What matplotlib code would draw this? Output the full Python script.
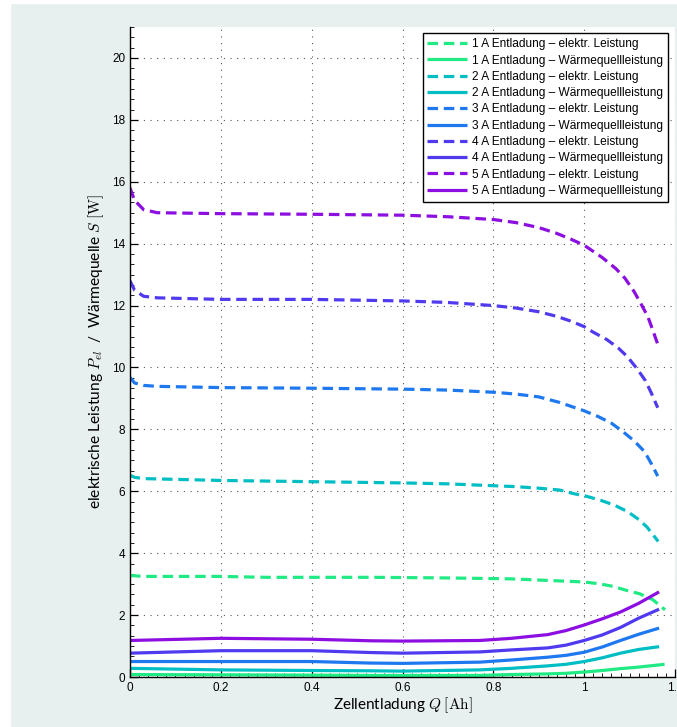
import matplotlib
matplotlib.use("Agg")
import matplotlib.pyplot as plt
from matplotlib.ticker import MultipleLocator, AutoMinorLocator
from matplotlib.patches import Rectangle

plt.rcParams["mathtext.fontset"] = "cm"
plt.rcParams["font.family"] = ["Liberation Sans", "DejaVu Sans"]

# --- electrical power P_el (dashed), per discharge current ------------------
q_p1 = [0, 0.03, 0.2, 0.3, 0.43, 0.54, 0.7, 0.8, 0.84, 0.92, 1.0, 1.034,
        1.063, 1.093, 1.122, 1.151, 1.178]
p_el1 = [3.28, 3.25, 3.25, 3.22, 3.22, 3.22, 3.2, 3.18, 3.17, 3.12, 3.07,
         3.01, 2.93, 2.8, 2.69, 2.5, 2.17]

q_p2 = [0, 0.01, 0.03, 0.2, 0.4, 0.6, 0.7, 0.8, 0.85, 0.9, 0.946, 0.975,
        1.005, 1.038, 1.067, 1.096, 1.12, 1.138, 1.163]
p_el2 = [6.52, 6.45, 6.41, 6.35, 6.31, 6.27, 6.24, 6.18, 6.15, 6.1, 6.04,
         5.93, 5.84, 5.7, 5.55, 5.34, 5.09, 4.85, 4.38]

q_p3 = [0, 0.01, 0.03, 0.06, 0.2, 0.4, 0.6, 0.7, 0.8, 0.85, 0.9, 0.946,
        0.972, 1.0, 1.03, 1.06, 1.085, 1.11, 1.133, 1.148, 1.162]
p_el3 = [9.68, 9.5, 9.42, 9.39, 9.35, 9.33, 9.3, 9.27, 9.2, 9.14, 9.05,
         8.87, 8.74, 8.6, 8.42, 8.2, 7.93, 7.63, 7.28, 6.89, 6.49]

q_p4 = [0, 0.01, 0.03, 0.06, 0.2, 0.4, 0.6, 0.7, 0.8, 0.85, 0.9, 0.94,
        0.97, 1.0, 1.02, 1.05, 1.075, 1.095, 1.117, 1.135, 1.148, 1.162]
p_el4 = [12.8, 12.5, 12.3, 12.25, 12.2, 12.2, 12.15, 12.1, 12.0, 11.92,
         11.8, 11.65, 11.5, 11.32, 11.14, 10.9, 10.63, 10.35, 9.95, 9.57,
         9.17, 8.7]

q_p5 = [0, 0.01, 0.03, 0.06, 0.2, 0.4, 0.6, 0.7, 0.8, 0.85, 0.9, 0.94,
        0.97, 1.0, 1.04, 1.07, 1.09, 1.11, 1.125, 1.14, 1.15, 1.162]
p_el5 = [15.8, 15.4, 15.1, 15.0, 14.97, 14.95, 14.92, 14.87, 14.78, 14.68,
         14.52, 14.33, 14.15, 13.95, 13.55, 13.19, 12.88, 12.45, 12.06,
         11.65, 11.25, 10.75]

# --- heat source S (solid) ---------------------------------------------------
q_s = [0, 0.2, 0.4, 0.53, 0.6, 0.77, 0.84, 0.92, 0.96, 1.0, 1.04, 1.08,
       1.12, 1.165]
q_s1 = [0, 0.2, 0.4, 0.53, 0.6, 0.77, 0.84, 0.92, 0.96, 1.0, 1.04, 1.08,
        1.12, 1.177]
s1 = [0.08, 0.07, 0.06, 0.05, 0.05, 0.05, 0.08, 0.1, 0.12, 0.16, 0.21,
      0.27, 0.32, 0.41]
s2 = [0.28, 0.23, 0.21, 0.2, 0.19, 0.23, 0.28, 0.36, 0.41, 0.5, 0.62,
      0.77, 0.89, 0.98]
s3 = [0.5, 0.5, 0.5, 0.45, 0.44, 0.48, 0.55, 0.64, 0.7, 0.8, 0.97, 1.18,
      1.38, 1.58]
s4 = [0.77, 0.85, 0.85, 0.79, 0.77, 0.81, 0.875, 0.94, 1.03, 1.18, 1.36,
      1.6, 1.9, 2.19]
s5 = [1.18, 1.25, 1.22, 1.17, 1.16, 1.18, 1.25, 1.37, 1.5, 1.68, 1.88,
      2.1, 2.38, 2.75]

currents = ["1 A", "2 A", "3 A", "4 A", "5 A"]
colours = ["#20ea84", "#00bec4", "#1e78f0", "#4f3af0", "#8c0ee0"]

x_ticks = [0, 0.2, 0.4, 0.6, 0.8, 1.0, 1.2]
x_ticklabels = ["0", "0.2", "0.4", "0.6", "0.8", "1", "1.2"]

p_series = [(q_p1, p_el1), (q_p2, p_el2), (q_p3, p_el3),
            (q_p4, p_el4), (q_p5, p_el5)]
s_series = [(q_s1, s1), (q_s, s2), (q_s, s3), (q_s, s4), (q_s, s5)]

fig = plt.figure(figsize=(6.77, 7.27), dpi=100, facecolor="#e8f0ef")
# thin white margin along the left and top edge
fig.patches.append(Rectangle((0, 0), 10 / 677, 1, transform=fig.transFigure,
                             color="white", zorder=0))
fig.patches.append(Rectangle((0, 1 - 3 / 727), 1, 3 / 727,
                             transform=fig.transFigure, color="white", zorder=0))

ax = fig.add_axes([130 / 677, 50 / 727, 545 / 677, 650 / 727])
ax.set_facecolor("white")

dash = (0, (3.3, 1.8))
for cur, col, (qp, pv), (qs, sv) in zip(currents, colours, p_series, s_series):
    ax.plot(qp, pv, color=col, lw=2.3, ls=dash,
            label=f"{cur} Entladung – elektr. Leistung")
    ax.plot(qs, sv, color=col, lw=2.3, solid_capstyle="butt",
            label=f"{cur} Entladung – Wärmequellleistung")

ax.set_xticks(x_ticks)
ax.set_xticklabels(x_ticklabels)
ax.set_xlim(0, 1.2)
ax.set_ylim(0, 21)
ax.yaxis.set_major_locator(MultipleLocator(2))
ax.xaxis.set_minor_locator(AutoMinorLocator(10))
ax.yaxis.set_minor_locator(AutoMinorLocator(6))

ax.tick_params(which="major", direction="in", length=6, width=0.9,
               labelsize=8.5, colors="black", top=False, right=False)
ax.tick_params(which="minor", direction="in", length=3, width=0.6,
               top=False, right=False)
ax.spines["top"].set_visible(False)
ax.spines["right"].set_visible(False)
for side in ("left", "bottom"):
    ax.spines[side].set_linewidth(1.0)
    ax.spines[side].set_color("black")

ax.grid(True, which="major", color="#555555", lw=0.8, ls=(0, (1, 5)))
ax.set_axisbelow(True)

ax.set_xlabel(r"Zellentladung $Q$ $[\mathrm{Ah}]$", fontsize=11,
              family=["Lato", "DejaVu Sans"], labelpad=1)
ax.set_ylabel(r"elektrische Leistung $P_{el}$  /  Wärmequelle $S$ $[\mathrm{W}]$",
              fontsize=11.2, family=["Lato", "DejaVu Sans"], labelpad=4)

leg = ax.legend(loc="upper right", bbox_to_anchor=(0.987, 0.99),
                borderaxespad=0, fontsize=8.6, frameon=True, fancybox=False,
                handlelength=3.3, handletextpad=0.45, labelspacing=0.36,
                borderpad=0.4)
leg.get_frame().set_edgecolor("black")
leg.get_frame().set_linewidth(1.0)
leg.get_frame().set_alpha(1)

fig.savefig("out.png", dpi=100, facecolor=fig.get_facecolor())
